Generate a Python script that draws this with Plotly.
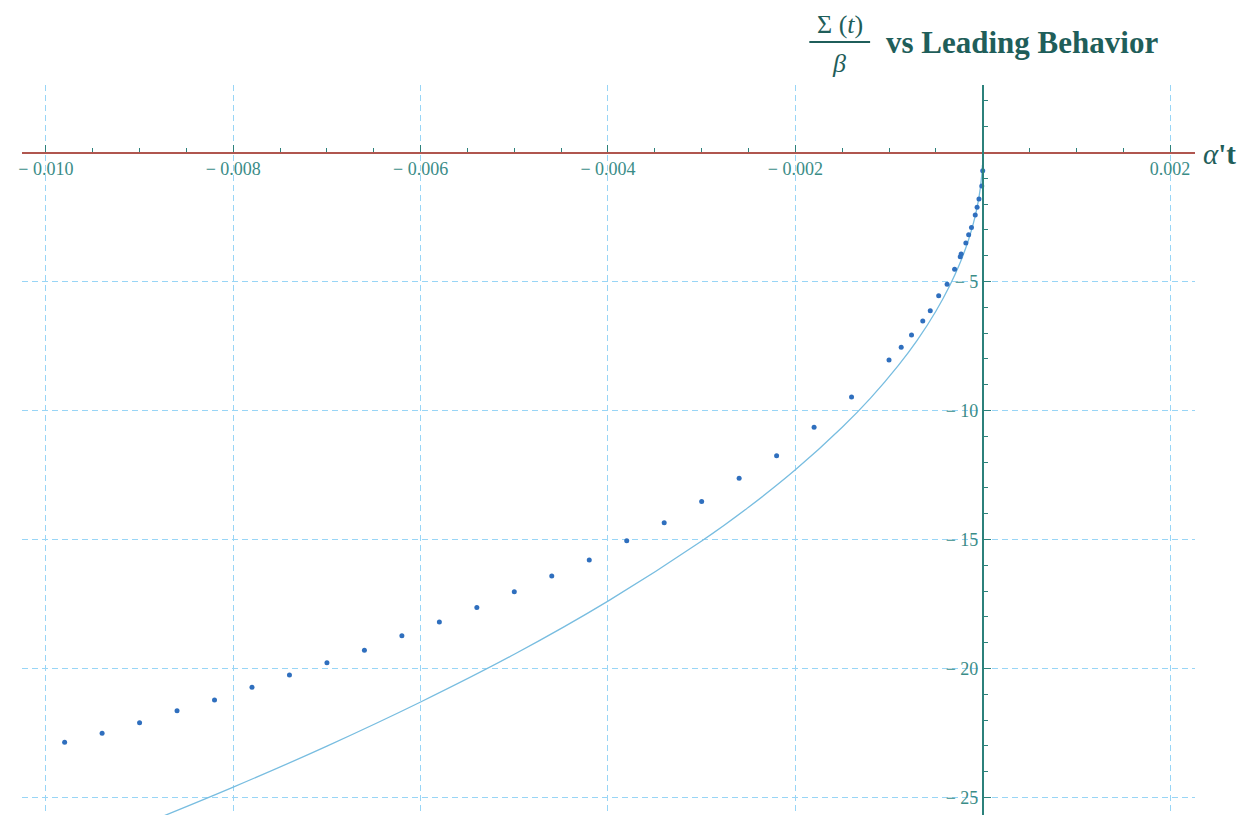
import plotly.graph_objects as go

# ---- data ----
pts_x = [-0.0098, -0.0094, -0.0090, -0.0086, -0.0082, -0.0078, -0.0074, -0.0070,
         -0.0066, -0.0062, -0.0058, -0.0054, -0.0050, -0.0046, -0.0042, -0.0038,
         -0.0034, -0.0030, -0.0026, -0.0022, -0.0018, -0.0014, -0.0010,
         -0.00087, -0.00076, -0.00064, -0.00056, -0.00047, -0.00038, -0.00030,
         -0.00024, -0.00023, -0.00018, -0.00015, -0.00012, -0.00008, -0.00006,
         -0.00004, -0.00001, 0.0]
pts_y = [-22.86, -22.51, -22.10, -21.64, -21.22, -20.73, -20.25, -19.78,
         -19.29, -18.73, -18.20, -17.64, -17.03, -16.41, -15.79, -15.05,
         -14.35, -13.53, -12.63, -11.75, -10.65, -9.48, -8.04,
         -7.55, -7.07, -6.53, -6.13, -5.55, -5.10, -4.52,
         -4.04, -3.93, -3.51, -3.19, -2.90, -2.42, -2.12,
         -1.80, -1.30, -0.70]

curve_x = [-0.0088, -0.0080, -0.0070, -0.0060, -0.0050, -0.0040, -0.0030, -0.0025,
           -0.0020, -0.0015, -0.0012, -0.0009, -0.0007, -0.0005, -0.00035, -0.00025,
           -0.00015, -0.00008, -0.00004, -0.00001, -0.000003]
curve_y = [-25.80, -24.60, -23.01, -21.30, -19.45, -17.39, -15.06, -13.75,
           -12.30, -10.65, -9.53, -8.25, -7.28, -6.15, -5.14, -4.35,
           -3.37, -2.46, -1.74, -0.87, -0.48]

x_tickvals = [-0.010, -0.008, -0.006, -0.004, -0.002, 0.002]
x_ticktext = ["\u2212 0.010", "\u2212 0.008", "\u2212 0.006", "\u2212 0.004", "\u2212 0.002", "0.002"]
y_tickvals = [-25, -20, -15, -10, -5]
y_ticktext = ["\u2212 25", "\u2212 20", "\u2212 15", "\u2212 10", "\u2212 5"]

# ---- layout constants ----
W, H = 1255, 818
OFF = 8                               # page offset of the plot div
PL, PR, PT, PB = 18, 1195, 85, 815   # plot area in page pixels
XMIN, XMAX = -0.010255, 0.002266
YMIN, YMAX = -25.68, 2.62

def px(xp):
    return (xp - PL) / (PR - PL)

def py(yp):
    return (PB - yp) / (PB - PT)

AX_TEAL = "#2c817b"
AX_RED = "#b0564f"
LBL = "#3a8c87"
GRID = "#98d5f6"
SERIF = "Liberation Serif, Times New Roman, serif"

fig = go.Figure()
fig.add_trace(go.Scatter(x=curve_x, y=curve_y, mode="lines", line_shape="spline",
                         line=dict(color="#78bde0", width=1.3), hoverinfo="skip",
                         showlegend=False, cliponaxis=True))
fig.add_trace(go.Scatter(x=pts_x, y=pts_y, mode="markers",
                         marker=dict(color="#2f6fbe", size=5, line=dict(width=0)),
                         showlegend=False))

x_minor = [round(-0.010 + 0.0005 * i, 6) for i in range(25)]
y_minor = [v for v in range(-25, 3) if v % 5 != 0]

fig.update_layout(
    width=W, height=H,
    margin=dict(l=PL - OFF, r=W - PR + OFF, t=PT - OFF, b=H - PB + OFF),
    plot_bgcolor="white", paper_bgcolor="white",
    xaxis=dict(range=[XMIN, XMAX], tickmode="array", tickvals=x_tickvals, ticktext=x_ticktext,
               showgrid=True, gridcolor=GRID, griddash="6px,4px", gridwidth=1,
               zeroline=False, showline=True, linecolor=AX_RED, linewidth=1.6,
               ticks="inside", ticklen=7, tickwidth=1.3, tickcolor=AX_TEAL,
               minor=dict(tickmode="array", tickvals=x_minor, ticks="inside", ticklen=4,
                          tickwidth=1.2, tickcolor=AX_TEAL, showgrid=False),
               anchor="free", position=(0 - YMIN) / (YMAX - YMIN),
               tickfont=dict(family=SERIF, size=18, color=LBL)),
    yaxis=dict(range=[YMIN, YMAX], tickmode="array", tickvals=y_tickvals, ticktext=y_ticktext,
               showgrid=True, gridcolor=GRID, griddash="6px,4px", gridwidth=1,
               zeroline=False, showline=True, linecolor=AX_TEAL, linewidth=1.6,
               ticks="inside", ticklen=7, tickwidth=1.3, tickcolor=AX_TEAL,
               minor=dict(tickmode="array", tickvals=y_minor, ticks="inside", ticklen=4,
                          tickwidth=1.2, tickcolor=AX_TEAL, showgrid=False),
               anchor="free", position=(0 - XMIN) / (XMAX - XMIN),
               tickfont=dict(family=SERIF, size=18, color=LBL)),
)

TITLE_C = "#1f5e5a"
# title: fraction Σ(t)/β + "vs Leading Behavior"
fig.add_annotation(xref="paper", yref="paper", x=px(839), y=py(25), text="\u03a3 (<i>t</i>)",
                   showarrow=False, font=dict(family=SERIF, size=26, color=TITLE_C),
                   xanchor="center", yanchor="middle")
fig.add_annotation(xref="paper", yref="paper", x=px(838), y=py(63), text="<i>\u03b2</i>",
                   showarrow=False, font=dict(family=SERIF, size=26, color=TITLE_C),
                   xanchor="center", yanchor="middle")
fig.add_shape(type="line", xref="paper", yref="paper", x0=px(808), x1=px(869),
              y0=py(42), y1=py(42), line=dict(color=TITLE_C, width=1.8))
fig.add_annotation(xref="paper", yref="paper", x=px(883), y=py(42),
                   text="<b>vs Leading Behavior</b>", showarrow=False,
                   font=dict(family=SERIF, size=31, color=TITLE_C),
                   xanchor="left", yanchor="middle")
# x-axis label
fig.add_annotation(xref="paper", yref="paper", x=px(1201), y=py(154),
                   text="<i>\u03b1</i><b>'t</b>", showarrow=False,
                   font=dict(family=SERIF, size=29, color=TITLE_C),
                   xanchor="left", yanchor="middle")

fig.write_html("out.html")
